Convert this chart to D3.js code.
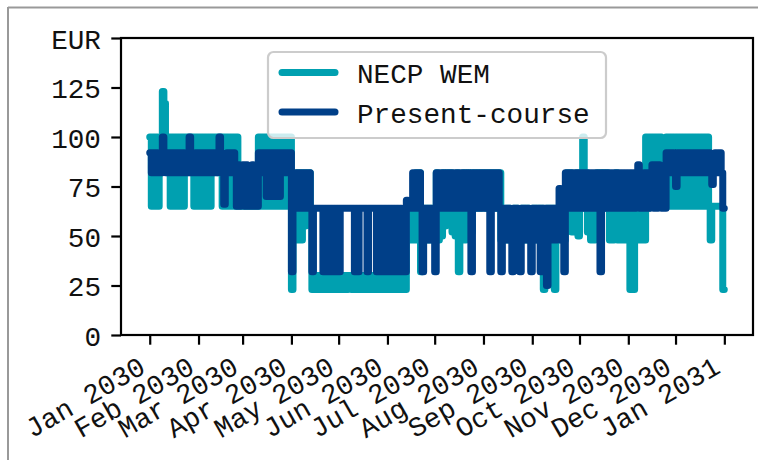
<!DOCTYPE html>
<html>
<head>
<meta charset="utf-8">
<title>Price 2030</title>
<script src="https://cdn.jsdelivr.net/npm/d3@7"></script>
<style>
  body { margin: 0; background: #fff; }
  svg text { font-family: "Liberation Mono", "Courier New", monospace; fill: #111; }
</style>
</head>
<body>
<div id="chart"></div>
<script>
// series names + colours
var seriesNames = ["NECP WEM", "Present-course"];
var seriesColors = ["#00a0b0", "#003f88"];

// daily values, one row per month (Jan..Dec 2030)
var necpWem = [
  [100,65,100,65,100,65,100,82,123,117,100,82,100,65,100,65,100,65,100,65,100,65,100,82,100,100,82,100,65,100,65],
  [100,65,100,65,100,65,100,65,100,82,100,100,82,100,100,65,100,65,100,65,100,65,100,65,100,65,82,65],
  [82,65,82,65,82,65,82,65,82,65,100,65,100,65,100,65,100,65,100,65,100,65,100,65,100,65,100,65,100,100,100],
  [23,82,48,82,48,82,48,82,55,82,60,82,60,23,30,23,30,23,30,23,30,23,30,23,30,23,30,23,30,23],
  [30,23,30,23,30,23,30,30,23,30,23,30,23,30,23,30,23,30,23,30,23,30,23,30,23,30,23,30,23,30,23],
  [30,23,30,23,30,23,30,23,30,23,30,23,64,48,64,48,64,48,82,64,82,32,64,64,48,64,48,64,64,48],
  [64,82,48,64,50,82,55,64,82,64,82,52,64,50,82,32,64,55,82,48,64,82,64,52,82,64,82,64,82,64,82],
  [82,64,82,64,82,64,82,64,82,64,82,48,64,48,64,48,64,48,48,64,48,64,48,48,64,48,64,48,64,48,48],
  [64,48,64,48,64,48,64,23,48,64,48,64,48,64,23,64,48,64,48,64,48,64,82,64,82,52,64,55,82,50],
  [64,82,100,64,82,52,64,48,64,48,64,82,64,82,64,82,64,82,64,48,64,48,64,82,48,64,48,64,48,64,48],
  [64,23,48,23,48,64,48,64,48,64,48,100,64,100,65,100,65,100,65,100,100,82,65,82,100,65,100,65,100,65],
  [100,65,100,65,100,65,100,65,100,65,100,65,100,65,100,65,100,65,100,65,100,65,48,65,65,65,65,65,65,65,23]
];
var presentCourse = [
  [92,82,92,82,92,82,92,82,100,92,82,92,82,92,82,92,82,92,82,92,82,92,82,92,82,100,82,92,82,92,82],
  [92,82,92,82,92,82,92,82,92,82,92,82,92,100,92,82,66,82,92,82,92,82,92,82,65,86,65,82],
  [86,65,86,65,82,65,86,65,82,65,92,82,92,82,92,70,92,70,92,70,92,70,92,70,92,82,92,82,92,82,92],
  [32,82,64,82,64,82,64,82,64,82,64,82,64,32,64,64,64,64,64,64,32,64,32,64,32,64,32,64,32,64],
  [32,64,64,64,64,64,64,64,64,64,32,64,32,64,64,64,64,64,32,64,64,64,64,64,32,64,32,64,32,64,32],
  [64,32,64,32,64,32,64,32,64,32,64,32,68,64,68,64,82,64,82,64,82,64,32,64,48,64,48,64,48,64],
  [32,82,64,82,64,82,64,82,64,82,64,82,64,82,64,82,64,82,64,82,64,82,64,32,82,64,82,64,82,64,82],
  [64,82,64,82,32,82,64,82,64,82,64,32,64,48,64,48,64,48,32,64,48,64,48,32,64,48,64,48,64,48,32],
  [64,48,64,48,64,32,64,48,64,25,64,48,64,48,64,48,64,74,48,74,32,82,64,82,64,82,64,82,64,82],
  [64,82,64,82,64,82,64,82,64,82,64,82,64,32,82,64,82,64,82,64,82,64,82,64,82,64,82,64,82,64,82],
  [64,82,64,82,64,82,86,64,82,64,82,64,82,64,82,86,64,86,64,86,82,64,82,64,92,82,92,82,92,82],
  [75,92,82,92,82,92,82,92,82,92,82,92,82,92,82,92,82,92,82,92,82,92,82,76,82,92,82,92,92,82,64]
];

// axis ticks
var xTickDates = ["2030-01-01","2030-02-01","2030-03-01","2030-04-01","2030-05-01","2030-06-01",
                  "2030-07-01","2030-08-01","2030-09-01","2030-10-01","2030-11-01","2030-12-01","2031-01-01"];
var yTickValues = [0, 25, 50, 75, 100, 125, 150];
var yTickLabels = ["0", "25", "50", "75", "100", "125", "EUR"];

var W = 758, H = 460;
var margin = {top: 38, right: 5, bottom: 125, left: 121};
var fs = 27.7;

var svg = d3.select("#chart").append("svg")
    .attr("width", W)
    .attr("height", H);

// grey frame of the screenshot
svg.append("line").attr("x1", 8).attr("x2", W).attr("y1", 7.5).attr("y2", 7.5)
    .style("stroke", "#999").style("stroke-width", 2);
svg.append("line").attr("x1", 8).attr("x2", 8).attr("y1", 7).attr("y2", H)
    .style("stroke", "#999").style("stroke-width", 2);

// turn month rows into dated points
function toPoints(rows) {
    var pts = [];
    rows.forEach(function(vals, m) {
        vals.forEach(function(v, i) {
            pts.push({date: new Date(2030, m, 1 + i), value: v});
        });
    });
    pts.push({date: new Date(2030, 11, 31, 23), value: pts[pts.length - 1].value});
    return pts;
}
var series = [toPoints(necpWem), toPoints(presentCourse)];

var t0 = new Date(2030, 0, 1), t1 = new Date(2030, 11, 31, 23);
var pad = (t1 - t0) * 0.05;
var x = d3.scaleTime()
    .domain([new Date(+t0 - pad), new Date(+t1 + pad)])
    .range([margin.left, W - margin.right]);
var y = d3.scaleLinear()
    .domain([0, 150])
    .range([H - margin.bottom, margin.top]);

var line = d3.line()
    .x(function(d){ return x(d.date); })
    .y(function(d){ return y(d.value); })
    .curve(d3.curveStepAfter);

svg.selectAll(".series")
    .data(series).enter()
    .append("path")
    .attr("class", "series")
    .attr("d", line)
    .style("fill", "none")
    .style("stroke", function(d, i){ return seriesColors[i]; })
    .style("stroke-width", 7)
    .style("stroke-linejoin", "round")
    .style("stroke-linecap", "round");

// x axis
var parse = d3.timeParse("%Y-%m-%d");
var xAxis = svg.append("g")
    .attr("transform", "translate(0," + (H - margin.bottom) + ")")
    .call(d3.axisBottom(x)
        .tickValues(xTickDates.map(parse))
        .tickFormat(d3.timeFormat("%b %Y"))
        .tickSize(9.7)
        .tickSizeOuter(0));
xAxis.select(".domain").remove();
xAxis.selectAll(".tick line").style("stroke", "#000").style("stroke-width", 2.2);
xAxis.selectAll(".tick text")
    .attr("x", -3)
    .attr("y", 37)
    .attr("dy", null)
    .attr("text-anchor", "end")
    .attr("transform", "rotate(-30,-3,37)")
    .style("font-size", fs + "px")
    .style("font-family", "'Liberation Mono', monospace");

// y axis
var yAxis = svg.append("g")
    .attr("transform", "translate(" + margin.left + ",0)")
    .call(d3.axisLeft(y)
        .tickValues(yTickValues)
        .tickFormat(function(d, i){ return yTickLabels[i]; })
        .tickSize(9.7)
        .tickPadding(10.3)
        .tickSizeOuter(0));
yAxis.select(".domain").remove();
yAxis.selectAll(".tick line").style("stroke", "#000").style("stroke-width", 2.2);
yAxis.selectAll(".tick text")
    .attr("dy", 10)
    .style("font-size", fs + "px")
    .style("font-family", "'Liberation Mono', monospace");

// spines
svg.append("rect")
    .attr("x", margin.left)
    .attr("y", margin.top)
    .attr("width", W - margin.left - margin.right)
    .attr("height", H - margin.top - margin.bottom)
    .style("fill", "none")
    .style("stroke", "#000")
    .style("stroke-width", 2.2);

// legend
var legend = svg.append("g");
legend.append("rect")
    .attr("x", 268).attr("y", 52)
    .attr("width", 338).attr("height", 86)
    .attr("rx", 5.5)
    .style("fill", "#fff")
    .style("fill-opacity", 0.8)
    .style("stroke", "#ccc")
    .style("stroke-width", 2.2);
var items = legend.selectAll(".item")
    .data(seriesNames).enter()
    .append("g")
    .attr("transform", function(d, i){ return "translate(0," + (i * 39.5) + ")"; });
items.append("line")
    .attr("x1", 282).attr("x2", 335)
    .attr("y1", 72.5).attr("y2", 72.5)
    .style("stroke", function(d, i){ return seriesColors[i]; })
    .style("stroke-width", 7)
    .style("stroke-linecap", "round");
items.append("text")
    .attr("x", 357)
    .attr("y", 83)
    .style("font-size", fs + "px")
    .text(function(d){ return d; });
</script>
</body>
</html>
